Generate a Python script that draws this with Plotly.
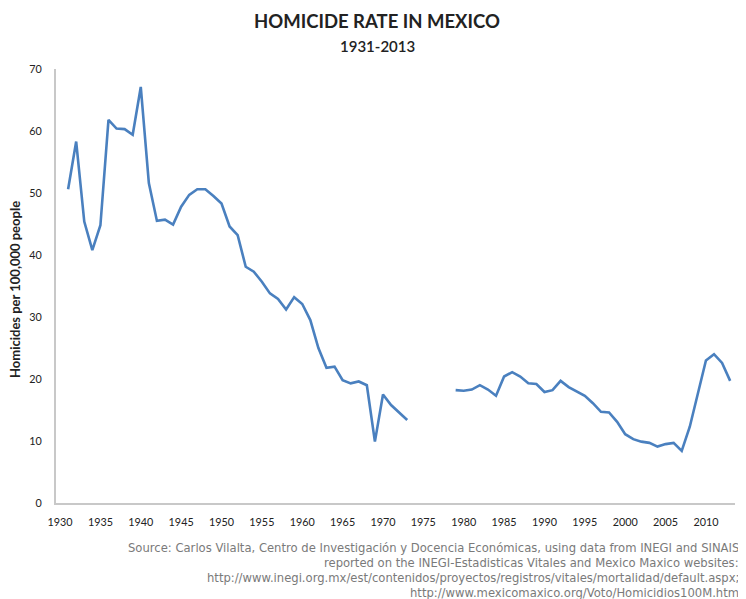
import plotly.graph_objects as go

years = list(range(1931, 2014))
rates = [
    50.6, 58.3, 45.4, 40.8, 44.8, 61.8, 60.4, 60.3, 59.4, 67.1,   # 1931-1940
    51.6, 45.5, 45.7, 44.9, 47.8, 49.7, 50.6, 50.6, 49.5, 48.3,   # 1941-1950
    44.6, 43.2, 38.1, 37.3, 35.7, 33.8, 32.9, 31.2, 33.2, 32.1,   # 1951-1960
    29.5, 25.0, 21.8, 22.0, 19.8, 19.3, 19.6, 19.0, 9.9, 17.5,    # 1961-1970
    15.8, 14.6, 13.4, None, None, None, None, None, 18.2, 18.1,   # 1971-1980
    18.3, 19.0, 18.3, 17.3, 20.4, 21.1, 20.4, 19.3, 19.2, 17.9,   # 1981-1990
    18.2, 19.7, 18.7, 18.0, 17.3, 16.1, 14.7, 14.6, 13.1, 11.1,   # 1991-2000
    10.3, 9.9, 9.7, 9.1, 9.5, 9.7, 8.4, 12.3, 17.7, 23.0,         # 2001-2010
    24.0, 22.6, 19.7,                                             # 2011-2013
]
x_ticks = list(range(1930, 2015, 5))
y_ticks = list(range(0, 71, 10))

title = "HOMICIDE RATE IN MEXICO"
subtitle = "1931-2013"
y_title = "Homicides per 100,000 people"
source_lines = [
    "Source: Carlos Vilalta, Centro de Investigación y Docencia Económicas, using data from INEGI and SINAIS",
    "reported on the INEGI-Estadisticas Vitales and Mexico Maxico websites:",
    "http://www.inegi.org.mx/est/contenidos/proyectos/registros/vitales/mortalidad/default.aspx;",
    "http://www.mexicomaxico.org/Voto/Homicidios100M.htm",
]

# The page body adds an 8px margin, so the figure is sized to fit inside the window.
OFF = 8
W, H = 746 - OFF, 599 - OFF
# target plot box in window pixels: x 56..735, y 69..503
ml, mr, mt, mb = 56 - OFF, 746 - 735, 69 - OFF, 599 - 503
pw = W - ml - mr
ph = H - mt - mb

fig = go.Figure()
fig.add_trace(go.Scatter(
    x=years, y=rates, mode="lines", connectgaps=False,
    line=dict(color="#4a80bf", width=2.6), hoverinfo="x+y", showlegend=False,
))

def px_to_paper_x(px):
    return (px - OFF - ml) / pw

def px_to_paper_y(py):
    return (H - mb - (py - OFF)) / ph

annotations = [
    dict(text="<b>" + title + "</b>", x=px_to_paper_x(377), y=px_to_paper_y(21),
         xref="paper", yref="paper", showarrow=False, xanchor="center", yanchor="middle",
         font=dict(family="Lato", size=18.5, color="#222222")),
    dict(text=subtitle, x=px_to_paper_x(377), y=px_to_paper_y(46),
         xref="paper", yref="paper", showarrow=False, xanchor="center", yanchor="middle",
         font=dict(family="Lato", size=15, color="#222222", weight=600)),
    dict(text="<b>" + y_title + "</b>", x=px_to_paper_x(15), y=px_to_paper_y(290),
         xref="paper", yref="paper", showarrow=False, xanchor="center", yanchor="middle",
         textangle=-90, font=dict(family="Lato", size=13, color="#222222")),
]
for i, line in enumerate(source_lines):
    annotations.append(dict(
        text=line, x=px_to_paper_x(741), y=px_to_paper_y(548 + 15 * i),
        xref="paper", yref="paper", showarrow=False, xanchor="right", yanchor="middle",
        font=dict(family="DejaVu Sans", size=11.6, color="#7a7a7a"),
    ))

fig.update_layout(
    width=W, height=H,
    margin=dict(l=ml, r=mr, t=mt, b=mb),
    paper_bgcolor="white", plot_bgcolor="white",
    font=dict(family="Lato", color="#333333"),
    annotations=annotations,
    xaxis=dict(
        range=[1929.5, 2013.6], tickmode="array", tickvals=x_ticks, automargin=False,
        showgrid=False, zeroline=False, showline=True, linecolor="#c8c8c8", linewidth=2,
        ticks="", ticklabelstandoff=8, tickfont=dict(family="Lato", size=10.8, color="#222222"),
    ),
    yaxis=dict(
        range=[0, 70], tickmode="array", tickvals=y_ticks, automargin=False,
        showgrid=False, zeroline=False, showline=True, linecolor="#c8c8c8", linewidth=2,
        ticks="", ticklabelstandoff=10, tickfont=dict(family="Lato", size=10.8, color="#222222"),
    ),
)

fig.write_html("out.html")
